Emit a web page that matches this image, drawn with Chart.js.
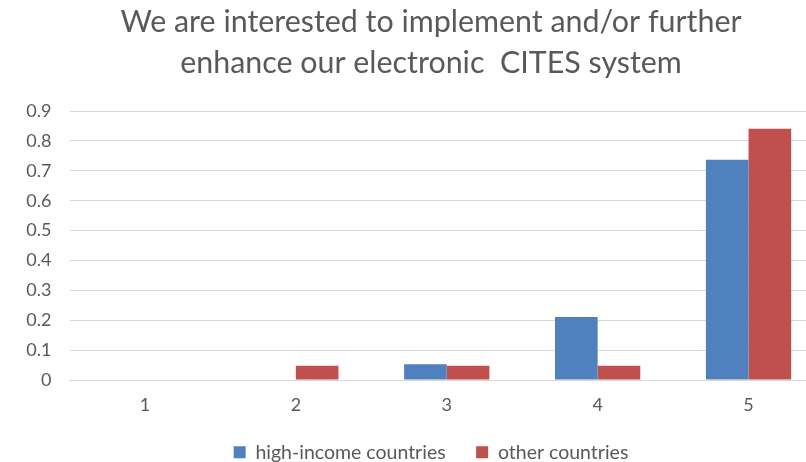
<!DOCTYPE html>
<html>
<head>
<meta charset="utf-8">
<script src="https://cdn.jsdelivr.net/npm/chart.js@4.4.1/dist/chart.umd.min.js"></script>
<style>
  html, body { margin: 0; padding: 0; background: #fff; overflow: hidden; }
  #wrap { width: 862px; height: 472px; }
</style>
</head>
<body>
<div id="wrap"><canvas id="chart" width="862" height="472"></canvas></div>
<script>
const categories = ['1', '2', '3', '4', '5'];
const highIncome = [0, 0, 0.053, 0.211, 0.737];
const otherCountries = [0, 0.048, 0.048, 0.048, 0.841];
const yTicks = [0, 0.1, 0.2, 0.3, 0.4, 0.5, 0.6, 0.7, 0.8, 0.9];

const grey = '#595959';

// the source picture is cropped on the right, so the canvas runs past the window
const ctx = document.getElementById('chart').getContext('2d');
new Chart(ctx, {
    type: 'bar',
    data: {
        labels: categories,
        datasets: [
            {
                label: 'high-income countries',
                data: highIncome,
                backgroundColor: '#4f81bd',
                barPercentage: 1,
                categoryPercentage: 0.565,
            },
            {
                label: 'other countries',
                data: otherCountries,
                backgroundColor: '#c0504d',
                barPercentage: 1,
                categoryPercentage: 0.565,
            },
        ],
    },
    options: {
        responsive: false,
        animation: false,
        devicePixelRatio: 1,
        layout: { padding: 0 },
        plugins: {
            title: {
                display: true,
                text: ['We are interested to implement and/or further', 'enhance our electronic  CITES system'],
                color: grey,
                font: { family: 'Lato', size: 30.4, weight: 'normal', lineHeight: 1.35 },
                padding: { top: 2, bottom: 27 },
            },
            legend: {
                position: 'bottom',
                labels: {
                    color: grey,
                    font: { family: 'Lato', size: 19.5 },
                    boxWidth: 12,
                    boxHeight: 12,
                    padding: 30.5,
                },
            },
            tooltip: { enabled: false },
        },
        scales: {
            x: {
                afterFit: (s) => { s.height = 32; },
                grid: { display: false, drawTicks: false },
                border: { color: '#d9d9d9' },
                ticks: { color: grey, font: { family: 'Lato', size: 18 }, padding: 14 },
            },
            y: {
                min: 0,
                max: 0.9,
                afterBuildTicks: (s) => { s.ticks = yTicks.map((v) => ({ value: v })); },
                afterFit: (s) => { s.width = 69.5; },
                grid: { color: '#d9d9d9', drawTicks: false },
                border: { display: false },
                ticks: {
                    color: grey,
                    font: { family: 'Lato', size: 18 },
                    padding: 18,
                    callback: (v) => String(Math.round(v * 10) / 10),
                },
            },
            // empty right margin so the title stays centred on the whole chart
            yRight: {
                position: 'right',
                afterFit: (s) => { s.width = 38; },
                grid: { display: false, drawTicks: false },
                border: { display: false },
                ticks: { display: false },
            },
        },
    },
});
</script>
</body>
</html>
